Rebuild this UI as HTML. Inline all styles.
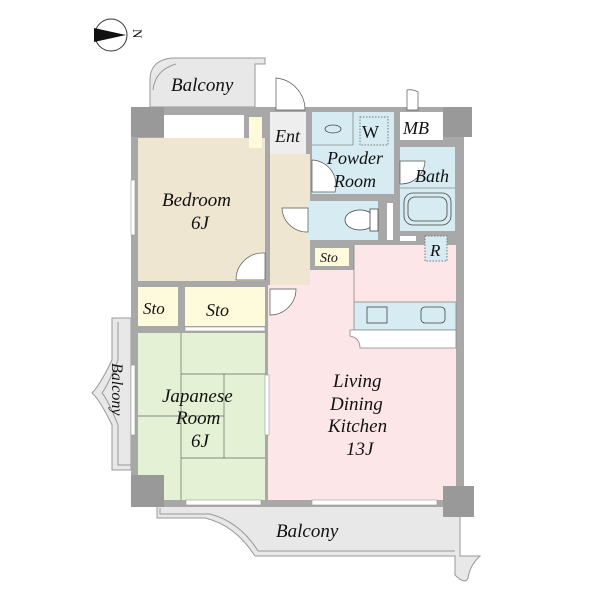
<!DOCTYPE html>
<html><head><style>
html,body{margin:0;padding:0;background:#fff}
svg{display:block}
text{font-family:"Liberation Serif",serif;font-style:italic;fill:#111}
</style></head><body>
<svg width="600" height="600" viewBox="0 0 600 600" xmlns="http://www.w3.org/2000/svg">
<circle cx="111" cy="35" r="16" fill="#fff" stroke="#333" stroke-width="1"/>
<path d="M94 28 L126 35 L94 42 Z" fill="#111"/>
<text x="132" y="40" font-size="13" transform="rotate(90 138 35)" style="font-style:normal">N</text>

<path d="M150 107 L150 80 Q150 60 172 58 L265 58 L265 64 L255 64 L255 107 Z" fill="#e8e8e8" stroke="#999" stroke-width="1"/>
<path d="M153 90 Q155 70 176 64" fill="none" stroke="#999"/>
<text x="171" y="91" font-size="19">Balcony</text>

<path d="M131 318 L112 318 L112 360 Q100 385 92 393 Q100 400 112 425 L112 470 L131 470 Z" fill="#e8e8e8" stroke="#999"/>
<path d="M118 322 L118 360 Q108 385 102 393 Q108 400 118 425 L118 465 L131 465" fill="none" stroke="#999"/>
<text x="112" y="363" font-size="16" transform="rotate(90 112 363)">Balcony</text>

<path d="M157 505 L157 518 L205 518 Q235 525 255 556 L455 556 L455 575 Q465 585 468 578 Q470 565 480 556 L460 556 L460 505 Z" fill="#e8e8e8" stroke="#999"/>
<path d="M160 508 L160 514 L210 514 Q240 522 258 551 L455 551" fill="none" stroke="#999"/>
<text x="276" y="537" font-size="19">Balcony</text>

<rect x="131" y="107" width="333" height="400" fill="#a8a8a8"/>
<rect x="164" y="115" width="80" height="23" fill="#fff"/>
<rect x="138" y="138" width="127" height="143" fill="#efe6d2"/>
<rect x="249" y="117" width="13" height="31" fill="#fdfbdc"/>
<rect x="270" y="112" width="36" height="42" fill="#eeeeee"/>
<rect x="270" y="154" width="40" height="131" fill="#efe6d2"/>
<rect x="312" y="112" width="82" height="82" fill="#d6ecf2"/>
<line x1="312" y1="145" x2="353" y2="145" stroke="#888" stroke-width="0.8"/>
<line x1="353" y1="112" x2="353" y2="145" stroke="#888" stroke-width="0.8"/>
<rect x="360" y="117" width="28" height="28" fill="none" stroke="#777" stroke-dasharray="1.5 1.5"/>
<ellipse cx="333" cy="129" rx="8" ry="4" fill="none" stroke="#444" stroke-width="0.8"/>
<rect x="400" y="112" width="43" height="28" fill="#fff"/>
<rect x="400" y="147" width="55" height="84" fill="#d6ecf2"/>
<line x1="400" y1="188" x2="455" y2="188" stroke="#888" stroke-width="0.8"/>
<rect x="404" y="193" width="47" height="32" rx="9" fill="none" stroke="#444" stroke-width="0.8"/>
<rect x="408" y="197" width="39" height="24" rx="7" fill="none" stroke="#444" stroke-width="0.8"/>
<rect x="308" y="201" width="70" height="39" fill="#d6ecf2"/>
<ellipse cx="360" cy="220" rx="15" ry="10" fill="#fff" stroke="#444" stroke-width="0.8"/>
<rect x="370" y="209" width="8" height="22" fill="#fff" stroke="#444" stroke-width="0.8"/>
<rect x="387" y="203" width="6" height="37" fill="#fff"/>
<rect x="400" y="236" width="16" height="5" fill="#fff"/>
<rect x="315" y="248" width="34" height="18" fill="#fdfbdc"/>
<path d="M268 285 L310 285 L310 270 L354 270 L354 245 L456 245 L456 500 L268 500 Z" fill="#fde6e8"/>
<rect x="425" y="236" width="22" height="25" fill="#d6ecf2" stroke="#777" stroke-dasharray="1.5 1.5"/>
<rect x="354" y="302" width="102" height="28" fill="#d6ecf2" stroke="#888" stroke-width="0.8"/>
<path d="M350 330 L456 330 L456 348 L360 348 Q360 338 350 336 Z" fill="#fff" stroke="#888" stroke-width="0.8"/>
<rect x="367" y="307" width="20" height="16" fill="none" stroke="#444" stroke-width="0.8"/>
<rect x="421" y="307" width="24" height="16" rx="4" fill="none" stroke="#444" stroke-width="0.8"/>
<line x1="354" y1="245" x2="354" y2="302" stroke="#888" stroke-width="0.8"/>
<rect x="138" y="287" width="40" height="39" fill="#fdfbdc"/>
<rect x="185" y="287" width="80" height="39" fill="#fdfbdc"/>
<path d="M138 333 L265 333 L265 500 L164 500 L164 475 L138 475 Z" fill="#e4f1d5"/>
<g stroke="#666" stroke-width="0.7" fill="none">
<line x1="181" y1="333" x2="181" y2="500"/>
<line x1="181" y1="374" x2="265" y2="374"/>
<line x1="224" y1="374" x2="224" y2="458"/>
<line x1="138" y1="416" x2="224" y2="416"/>
<line x1="181" y1="458" x2="265" y2="458"/>
</g>
<rect x="131" y="107" width="33" height="30" fill="#999"/>
<rect x="443" y="107" width="29" height="30" fill="#999"/>
<rect x="131" y="475" width="33" height="32" fill="#999"/>
<rect x="443" y="486" width="31" height="31" fill="#999"/>
<g fill="#fff" stroke="#999" stroke-width="0.6">
<rect x="131" y="180" width="4" height="55"/>
<rect x="131" y="365" width="4" height="70"/>
<rect x="265" y="375" width="4" height="60"/>
<rect x="186" y="500" width="75" height="5"/>
<rect x="312" y="500" width="125" height="5"/>
<rect x="185" y="327" width="80" height="4"/>
</g>
<g fill="#fff" stroke="#555" stroke-width="0.7">
<path d="M276 110 L276 78 A32 32 0 0 1 305 110 Z"/>
<path d="M407 110 L407 90 A16 16 0 0 1 418 92 L418 110 Z"/>
<path d="M312 160 L312 192 L335 192 A25 25 0 0 0 312 160 Z"/>
<path d="M282 208 A25 25 0 0 0 308 232 L308 208 Z"/>
<path d="M236 280 A27 27 0 0 1 265 253 L265 280 Z"/>
<path d="M270 289 L270 315 A26 26 0 0 0 296 289 Z"/>
<path d="M400 161 L425 161 A24 24 0 0 1 400 184 Z"/>
</g>
<text x="275" y="142" font-size="18">Ent</text>
<text x="362" y="138" font-size="18" style="font-style:normal">W</text>
<text x="403" y="134" font-size="18">MB</text>
<text x="327" y="164" font-size="18">Powder</text>
<text x="334" y="187" font-size="18">Room</text>
<text x="415" y="182" font-size="18">Bath</text>
<text x="320" y="262" font-size="14">Sto</text>
<text x="430" y="256" font-size="17">R</text>
<text x="162" y="206" font-size="19">Bedroom</text>
<text x="191" y="229" font-size="19">6J</text>
<text x="143" y="314" font-size="17">Sto</text>
<text x="206" y="316" font-size="18">Sto</text>
<text x="162" y="402" font-size="19">Japanese</text>
<text x="176" y="424" font-size="19">Room</text>
<text x="191" y="447" font-size="19">6J</text>
<text x="333" y="387" font-size="19">Living</text>
<text x="330" y="410" font-size="19">Dining</text>
<text x="328" y="432" font-size="19">Kitchen</text>
<text x="346" y="455" font-size="19">13J</text>
</svg>
</body></html>
